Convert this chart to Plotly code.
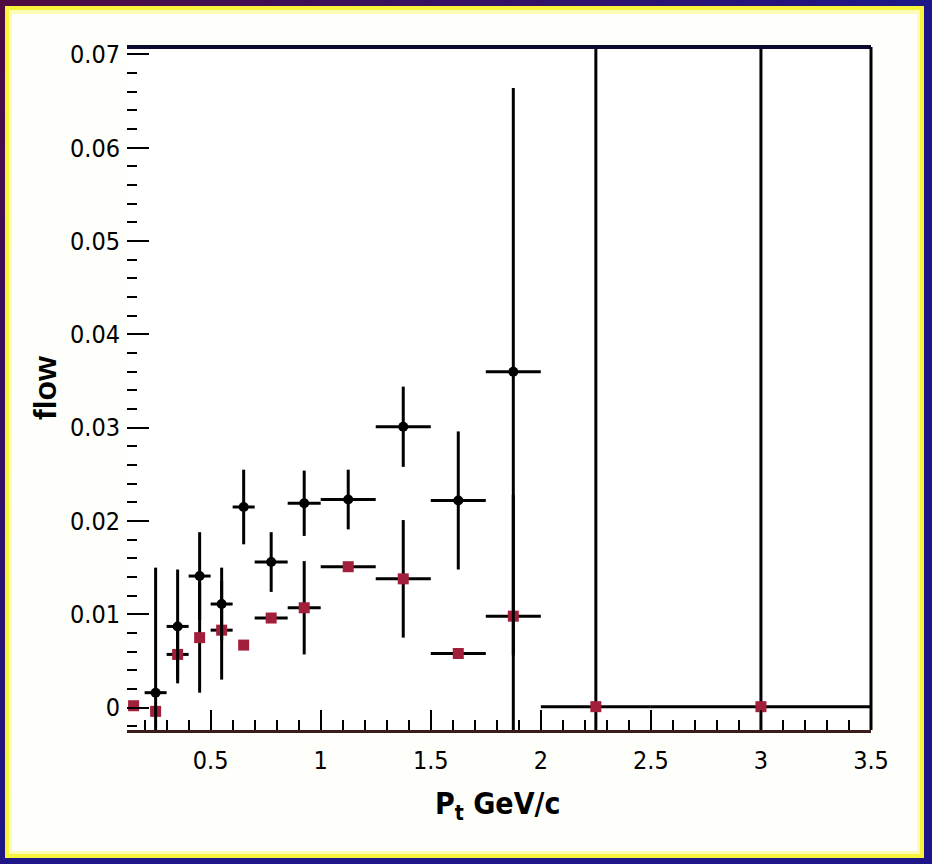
import plotly.graph_objects as go

# ---------------- data ----------------
pt_black = [0.25, 0.35, 0.45, 0.55, 0.65, 0.775, 0.925, 1.125, 1.375, 1.625, 1.875]
flow_black = [0.0016, 0.0087, 0.0141, 0.0111, 0.0215, 0.0156, 0.0219, 0.0223, 0.0301, 0.0222, 0.0360]
err_black = [0.0134, 0.0061, 0.0047, 0.0039, 0.0040, 0.0032, 0.0035, 0.0032, 0.0043, 0.0074, 0.0304]
xerr_black = [0.05, 0.05, 0.05, 0.05, 0.05, 0.075, 0.075, 0.125, 0.125, 0.125, 0.125]

pt_red = [0.15, 0.25, 0.35, 0.45, 0.55, 0.65, 0.775, 0.925, 1.125, 1.375, 1.625, 1.875, 2.25, 3.0]
flow_red = [0.0002, -0.0004, 0.0057, 0.0075, 0.0083, 0.0067, 0.0096, 0.0107, 0.0151, 0.0138, 0.0058, 0.0098, 0.0001, 0.0001]
err_red = [0, 0, 0.0027, 0.0059, 0.0053, 0, 0, 0.0050, 0, 0.0063, 0, 0.013, 0.09, 0.09]
xerr_red = [0, 0, 0.05, 0, 0.05, 0, 0.075, 0.075, 0.125, 0.125, 0.125, 0.125, 0.25, 0.5]

x_ticks = [0.5, 1, 1.5, 2, 2.5, 3, 3.5]
x_ticktext = ["0.5", "1", "1.5", "2", "2.5", "3", "3.5"]
y_ticks = [0, 0.01, 0.02, 0.03, 0.04, 0.05, 0.06, 0.07]
y_ticktext = ["0", "0.01", "0.02", "0.03", "0.04", "0.05", "0.06", "0.07"]

x_title = "P<sub>t</sub> GeV/c"
y_title = "flow"

# ---------------- geometry helpers ----------------
W, H = 932, 864
L, R, T, B = 127, 871, 47, 730  # plot area in pixels


def px(x):
    return (x - L) / (R - L)


def py(y):
    return (B - y) / (B - T)


TICKFONT = "Liberation Sans Narrow, DejaVu Sans Condensed, Liberation Sans, Arial"

fig = go.Figure()

fig.add_trace(go.Scatter(
    x=pt_red, y=flow_red, mode="markers",
    marker=dict(symbol="square", size=11, color="#a11f3a"),
    error_y=dict(type="data", array=err_red, color="black", thickness=3, width=0),
    error_x=dict(type="data", array=xerr_red, color="black", thickness=3, width=0),
    showlegend=False,
))
fig.add_trace(go.Scatter(
    x=pt_black, y=flow_black, mode="markers",
    marker=dict(symbol="circle", size=10, color="black"),
    error_y=dict(type="data", array=err_black, color="black", thickness=3, width=0),
    error_x=dict(type="data", array=xerr_black, color="black", thickness=3, width=0),
    showlegend=False,
))

shapes = []


def rect(x0, y0, x1, y1, color):
    shapes.append(dict(type="rect", xref="paper", yref="paper",
                       x0=px(x0), x1=px(x1), y0=py(y1), y1=py(y0),
                       fillcolor=color, line=dict(width=0), layer="below"))


# dark border gradient (purple top-left -> blue)
def mix(c1, c2, t):
    a = [int(c1[i:i + 2], 16) for i in (1, 3, 5)]
    b = [int(c2[i:i + 2], 16) for i in (1, 3, 5)]
    return "#" + "".join(f"{int(round(a[k] + (b[k] - a[k]) * t)):02x}" for k in range(3))


c_purple, c_blue = "#4e0c40", "#1c1688"
rect(0, 0, W, H, c_blue)
n = 24
for i in range(n):
    rect(W * i / n, 0, W * (i + 1) / n + 1, 8, mix(c_purple, c_blue, i / n))
    rect(0, H * i / n, 8, H * (i + 1) / n + 1, mix(c_purple, c_blue, i / n))
# yellow frame + near-white interior
rect(5, 6, 924, 858, "#f8f43c")
rect(9, 10, 920, 854, "#fcfbb8")
rect(12, 14, 917, 851, "#fefefa")
# white plot area
rect(L, T, R, B, "#ffffff")

# frame lines (top & right)
shapes.append(dict(type="line", xref="paper", yref="paper", x0=0, x1=1, y0=1, y1=1,
                   line=dict(color="#0b0b30", width=4), layer="above"))
shapes.append(dict(type="line", xref="paper", yref="paper", x0=1, x1=1, y0=0, y1=1,
                   line=dict(color="black", width=3), layer="above"))

fig.update_layout(
    width=W, height=H, autosize=False,
    margin=dict(l=L, r=W - R, t=T, b=H - B, pad=0),
    paper_bgcolor=c_blue, plot_bgcolor="white",
    shapes=shapes,
    showlegend=False,
    annotations=[
        dict(text=x_title, xref="paper", yref="paper", x=px(497), y=py(805),
             xanchor="center", yanchor="middle", showarrow=False,
             font=dict(family=TICKFONT, size=30, color="black", weight="bold")),
        dict(text=y_title, xref="paper", yref="paper", x=px(45), y=py(388),
             xanchor="center", yanchor="middle", showarrow=False, textangle=-90,
             font=dict(family="Liberation Sans, Arial", size=32, color="black", weight="bold")),
    ],
)

fig.update_xaxes(
    range=[0.12, 3.5], tickvals=x_ticks, ticktext=x_ticktext,
    ticks="inside", ticklen=20, tickwidth=2, tickcolor="black",
    minor=dict(ticks="inside", ticklen=10, tickwidth=2, tickcolor="black", dtick=0.1, tick0=0, showgrid=False),
    showgrid=False, zeroline=False, showline=True, linecolor="#3a1c1c", linewidth=3,
    tickfont=dict(family=TICKFONT, size=25, color="black"), ticklabelstandoff=6,
)
fig.update_yaxes(
    range=[-0.0024, 0.0708], tickvals=y_ticks, ticktext=y_ticktext,
    ticks="inside", ticklen=22, tickwidth=2, tickcolor="black",
    minor=dict(ticks="inside", ticklen=10, tickwidth=2, tickcolor="black", dtick=0.002, tick0=0, showgrid=False),
    showgrid=False, zeroline=False, showline=False,
    tickfont=dict(family=TICKFONT, size=25, color="black"), ticklabelstandoff=6,
)

fig.write_html("out.html")
